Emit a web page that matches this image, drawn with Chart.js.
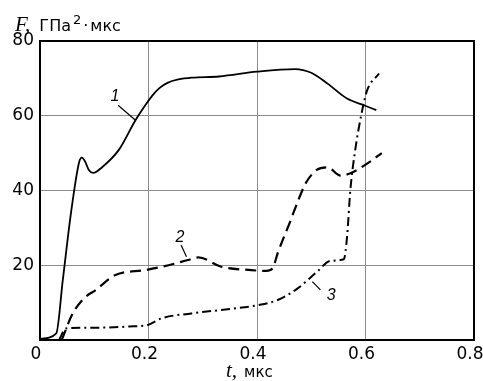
<!DOCTYPE html>
<html>
<head>
<meta charset="utf-8">
<script src="https://cdn.jsdelivr.net/npm/chart.js@4.4.1/dist/chart.umd.min.js"></script>
<style>
  html, body { margin: 0; padding: 0; background: #fff; }
  #wrap { width: 483px; height: 381px; position: relative; }
</style>
</head>
<body>
<div id="wrap"><canvas id="c" width="483" height="381"></canvas></div>
<script>
// Curve 1 (solid)
const t1 = [0.0, 0.03, 0.042, 0.057, 0.072, 0.077, 0.083, 0.09, 0.098, 0.115, 0.145, 0.176, 0.195, 0.207, 0.22, 0.235, 0.255, 0.28, 0.33, 0.4, 0.47, 0.5, 0.53, 0.566, 0.597, 0.62];
const F1 = [0.3, 1.8, 16.0, 33.9, 47.5, 48.8, 47.8, 45.5, 44.7, 46.3, 50.8, 58.8, 63.0, 65.4, 67.4, 68.8, 69.7, 70.2, 70.5, 71.8, 72.5, 71.5, 68.6, 64.6, 62.8, 61.5];
// Curve 2 (dashed)
const t2 = [0.04, 0.06, 0.08, 0.103, 0.139, 0.194, 0.237, 0.273, 0.292, 0.334, 0.389, 0.417, 0.429, 0.438, 0.462, 0.475, 0.49, 0.51, 0.53, 0.554, 0.572, 0.603, 0.63];
const F2 = [0, 7, 11, 13.4, 17.4, 18.7, 20, 21.4, 22.1, 19.6, 18.7, 18.5, 19.2, 23.2, 32, 37, 42, 45.5, 46.2, 44, 44.6, 47.2, 50];
// Curve 3 (dash-dot)
const t3 = [0.035, 0.048, 0.1, 0.164, 0.2, 0.224, 0.279, 0.35, 0.401, 0.438, 0.475, 0.511, 0.536, 0.56, 0.566, 0.572, 0.581, 0.594, 0.603, 0.625];
const F3 = [0, 3.1, 3.3, 3.6, 4.1, 5.8, 7.1, 8.3, 9.3, 10.7, 13.8, 18.3, 21.2, 21.6, 27.6, 40, 50.8, 61.5, 66.8, 71.3];

const xTicks = [0, 0.2, 0.4, 0.6, 0.8];
const yTicks = [0, 20, 40, 60, 80];

// Curve number labels: [text, label t, label F, leader from t, F, leader to t, F]
const curveLabels = [
  ['1', 0.138, 65.2, 0.144, 62.8, 0.176, 58.8],
  ['2', 0.258, 27.3, 0.26, 25.4, 0.27, 22.3],
  ['3', 0.537, 12.0, 0.517, 13.4, 0.502, 15.6]
];

const toPts = (xs, ys) => xs.map((x, i) => ({x: x, y: ys[i]}));

function runs(ctx, parts, x, baseline) {
  parts.forEach(p => {
    ctx.font = p.font;
    x += p.gap || 0;
    ctx.fillText(p.text, x, baseline + (p.dy || 0));
    x += ctx.measureText(p.text).width;
  });
}

const overlay = {
  id: 'overlay',
  afterDraw(chart) {
    const ctx = chart.ctx;
    const a = chart.chartArea;
    const xs = chart.scales.x, ys = chart.scales.y;
    ctx.save();
    // frame
    ctx.strokeStyle = '#000';
    ctx.lineWidth = 2;
    ctx.strokeRect(a.left, a.top, a.right - a.left, a.bottom - a.top);
    // curve labels with leaders
    ctx.lineWidth = 1.2;
    ctx.fillStyle = '#000';
    ctx.font = 'italic 16px "Liberation Sans", Arial, sans-serif';
    ctx.textAlign = 'center';
    ctx.textBaseline = 'middle';
    curveLabels.forEach(l => {
      ctx.fillText(l[0], xs.getPixelForValue(l[1]), ys.getPixelForValue(l[2]));
      ctx.beginPath();
      ctx.moveTo(xs.getPixelForValue(l[3]), ys.getPixelForValue(l[4]));
      ctx.lineTo(xs.getPixelForValue(l[5]), ys.getPixelForValue(l[6]));
      ctx.stroke();
    });
    // axis titles
    ctx.textAlign = 'left';
    ctx.textBaseline = 'alphabetic';
    const serifI = 'italic 21px "Liberation Serif", "Times New Roman", serif';
    const sans = '16px "DejaVu Sans", sans-serif';
    runs(ctx, [
      {text: 'F,', font: serifI},
      {text: 'ГПа', font: sans, gap: 9},
      {text: '2', font: '13px "DejaVu Sans", sans-serif', gap: 2, dy: -7},
      {text: '·', font: sans, gap: 2},
      {text: 'мкс', font: sans, gap: 2}
    ], 15, 31);
    runs(ctx, [
      {text: 't,', font: serifI},
      {text: 'мкс', font: '15px "DejaVu Sans", sans-serif', gap: 7}
    ], 226, 377);
    ctx.restore();
  }
};

new Chart(document.getElementById('c'), {
  type: 'line',
  data: {
    datasets: [
      { data: toPts(t1, F1), borderColor: '#000', borderWidth: 1.8, pointRadius: 0, cubicInterpolationMode: 'monotone', fill: false },
      { data: toPts(t2, F2), borderColor: '#000', borderWidth: 2.2, borderDash: [11, 6], pointRadius: 0, cubicInterpolationMode: 'monotone', fill: false },
      { data: toPts(t3, F3), borderColor: '#000', borderWidth: 2, borderDash: [9, 4, 2, 4], pointRadius: 0, cubicInterpolationMode: 'monotone', fill: false }
    ]
  },
  options: {
    responsive: false,
    animation: false,
    devicePixelRatio: 1,
    layout: { padding: { top: 41, right: 9, left: 0, bottom: 0 } },
    plugins: { legend: { display: false }, tooltip: { enabled: false } },
    scales: {
      x: {
        type: 'linear', min: 0, max: 0.8,
        afterBuildTicks: s => { s.ticks = xTicks.map(v => ({value: v})); },
        afterFit: s => { s.height = 41; s.paddingLeft = 0; s.paddingRight = 0; },
        grid: { color: '#8c8c8c', lineWidth: 1, drawTicks: false },
        border: { display: true, color: '#000', width: 2 },
        ticks: {
          color: '#000', padding: 4, labelOffset: -4, maxRotation: 0,
          font: { family: '"DejaVu Sans", sans-serif', size: 17 },
          callback: v => String(v)
        }
      },
      y: {
        type: 'linear', min: 0, max: 80,
        afterBuildTicks: s => { s.ticks = yTicks.map(v => ({value: v})); },
        afterFit: s => { s.width = 40; s.paddingTop = 0; s.paddingBottom = 0; },
        grid: { color: '#8c8c8c', lineWidth: 1, drawTicks: false },
        border: { display: true, color: '#000', width: 2 },
        ticks: {
          color: '#000', padding: 6,
          font: { family: '"DejaVu Sans", sans-serif', size: 17 },
          callback: v => (v === 0 ? '' : String(v))
        }
      }
    }
  },
  plugins: [overlay]
});
</script>
</body>
</html>
